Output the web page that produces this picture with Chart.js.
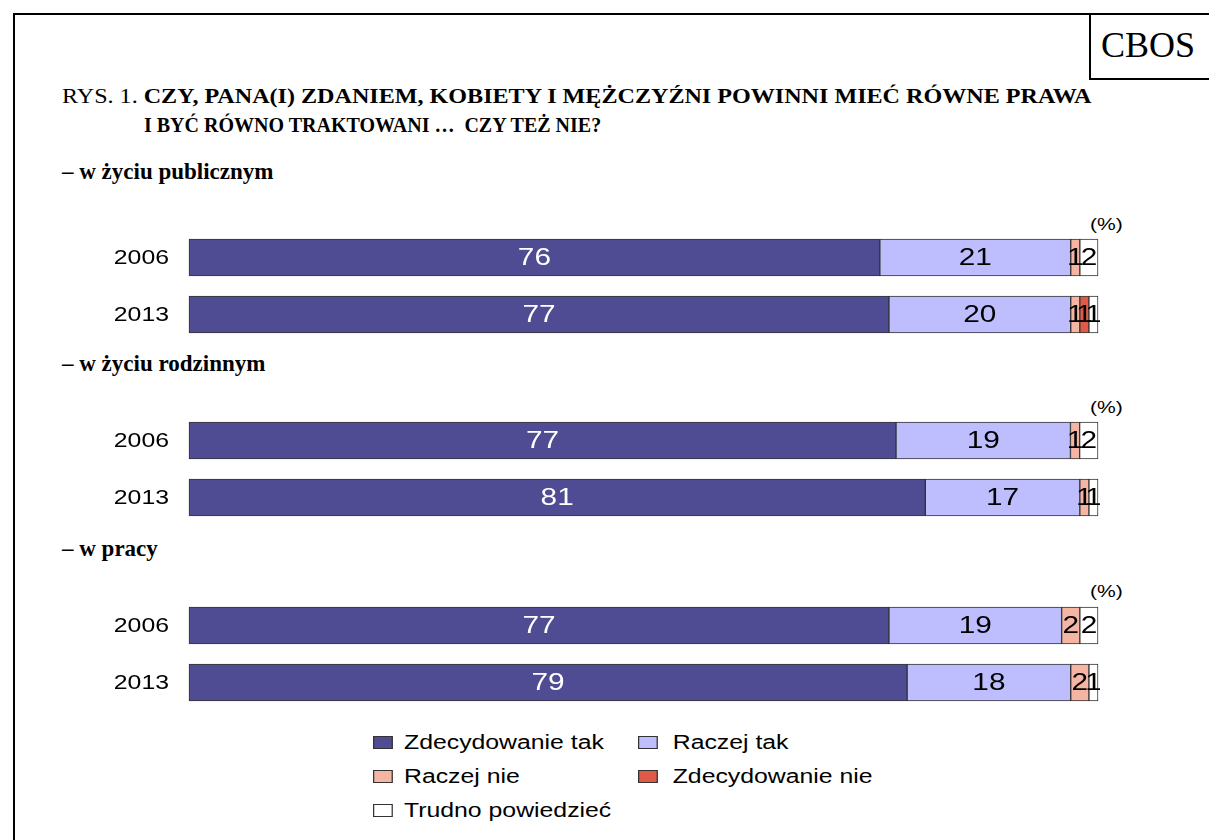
<!DOCTYPE html>
<html><head><meta charset="utf-8">
<script src="https://cdn.jsdelivr.net/npm/chart.js@4"></script>
<style>
html,body{margin:0;padding:0;background:#fff;width:1209px;height:840px;overflow:hidden;position:relative;}
.abs{position:absolute;white-space:nowrap;}
#frame{left:13px;top:13px;width:1300px;height:900px;border:2px solid #000;box-sizing:border-box;}
#cbos{left:1089px;top:13px;width:200px;height:67px;border-left:2px solid #000;border-bottom:2px solid #000;box-sizing:border-box;}
#cbosT{left:1101px;top:27px;font:36px/36px "Liberation Serif","Times New Roman",serif;}
.title{font:bold 20px/20px "Liberation Serif","Times New Roman",serif;}
.head{font:bold 23px/24px "Liberation Serif","Times New Roman",serif;left:62px;}
.pct{font:17px/18px "Liberation Sans",Arial,sans-serif;left:1090px;transform:scaleX(1.24);transform-origin:left center;}
.chart{position:absolute;left:100px;width:1000px;height:114px;}
.leg{position:absolute;font:20px/22px "Liberation Sans",Arial,sans-serif;display:flex;align-items:center;white-space:nowrap;transform:scaleX(1.24);transform-origin:left center;}
.leg span.sw{display:inline-block;width:14px;height:11px;border:1px solid #333;margin-right:9px;}
</style></head>
<body>
<div id="frame" class="abs"></div>
<div id="cbos" class="abs"></div>
<div id="cbosT" class="abs">CBOS</div>
<div class="abs title" style="left:62px;top:86px;transform:scaleX(1.205);transform-origin:left center;"><span style="font-weight:normal">RYS. 1.</span> CZY, PANA(I) ZDANIEM, KOBIETY I MĘŻCZYŹNI POWINNI MIEĆ RÓWNE PRAWA</div>
<div class="abs title" style="left:144px;top:115px;">I BYĆ RÓWNO TRAKTOWANI …&nbsp; CZY TEŻ NIE?</div>

<div class="abs head" style="top:160px;">– w życiu publicznym</div>
<div class="abs pct" style="top:216px;">(%)</div>
<div class="abs head" style="top:352px;">– w życiu rodzinnym</div>
<div class="abs pct" style="top:399px;">(%)</div>
<div class="abs head" style="top:537px;">– w pracy</div>
<div class="abs pct" style="top:583px;">(%)</div>

<div class="chart" style="top:229px;"><canvas id="c0"></canvas></div>
<div class="chart" style="top:412px;"><canvas id="c1"></canvas></div>
<div class="chart" style="top:597px;"><canvas id="c2"></canvas></div>

<div id="legend"></div>

<script>
// ---- data ----
const years = ['2006', '2013'];
const seriesNames = ['Zdecydowanie tak', 'Raczej tak', 'Raczej nie', 'Zdecydowanie nie', 'Trudno powiedzieć'];
const seriesColors = ['#504C94', '#BEBEFF', '#F5B5A3', '#E05A47', '#FFFFFF'];
// values per group: [2006, 2013] for each series
const publicZdecTak = [76, 77];
const publicRaczejTak = [21, 20];
const publicRaczejNie = [1, 1];
const publicZdecNie = [0, 1];
const publicTrudno = [2, 1];

const familyZdecTak = [77, 81];
const familyRaczejTak = [19, 17];
const familyRaczejNie = [1, 1];
const familyZdecNie = [0, 0];
const familyTrudno = [2, 1];

const workZdecTak = [77, 79];
const workRaczejTak = [19, 18];
const workRaczejNie = [2, 2];
const workZdecNie = [0, 0];
const workTrudno = [2, 1];

const groups = [
  [publicZdecTak, publicRaczejTak, publicRaczejNie, publicZdecNie, publicTrudno],
  [familyZdecTak, familyRaczejTak, familyRaczejNie, familyZdecNie, familyTrudno],
  [workZdecTak, workRaczejTak, workRaczejNie, workZdecNie, workTrudno]
];

const STRETCH = 1.24;
function stretchedText(ctx, txt, x, y) {
  ctx.save();
  ctx.translate(x, y);
  ctx.scale(STRETCH, 1);
  ctx.fillText(txt, 0, 0);
  ctx.restore();
}

// value + category label plugin
const labelPlugin = {
  id: 'segLabels',
  afterDatasetsDraw(chart) {
    const ctx = chart.ctx;
    ctx.save();
    ctx.textBaseline = 'middle';
    // category (year) labels from the y scale
    const ys = chart.scales.y;
    ctx.font = '20px "Liberation Sans", Arial, sans-serif';
    ctx.fillStyle = '#000';
    ctx.textAlign = 'right';
    chart.data.labels.forEach((lab, i) => {
      stretchedText(ctx, lab, chart.chartArea.left - 20, ys.getPixelForValue(i) + 1);
    });
    // segment values
    ctx.font = '24px "Liberation Sans", Arial, sans-serif';
    ctx.textAlign = 'center';
    chart.data.datasets.forEach((ds, di) => {
      const meta = chart.getDatasetMeta(di);
      meta.data.forEach((el, i) => {
        const raw = ds.rawValues[i];
        if (!raw) return;
        const p = el.getProps(['x', 'y', 'base'], true);
        const cx = (p.x + p.base) / 2;
        ctx.fillStyle = di === 0 ? '#FFFFFF' : '#000000';
        stretchedText(ctx, String(raw), cx, p.y + 1);
      });
    });
    ctx.restore();
  }
};

groups.forEach((g, gi) => {
  const totals = years.map((_, i) => g.reduce((s, arr) => s + arr[i], 0));
  new Chart(document.getElementById('c' + gi), {
    type: 'bar',
    data: {
      labels: years,
      datasets: g.map((arr, si) => ({
        label: seriesNames[si],
        data: arr.map((v, i) => v / totals[i] * 100),
        rawValues: arr,
        backgroundColor: seriesColors[si],
        borderColor: '#333333',
        borderWidth: 1,
        borderSkipped: false,
        barThickness: 37
      }))
    },
    options: {
      indexAxis: 'y',
      responsive: true,
      maintainAspectRatio: false,
      animation: false,
      clip: false,
      layout: { autoPadding: false, padding: { left: 89, right: 2, top: 0, bottom: 0 } },
      plugins: { legend: { display: false }, tooltip: { enabled: false } },
      scales: {
        x: { stacked: true, min: 0, max: 100, display: false },
        y: { stacked: true, display: false }
      }
    },
    plugins: [labelPlugin]
  });
});

// legend (HTML) built from series arrays
const legPos = [[373, 742], [638, 742], [373, 776], [638, 776], [373, 810]];
const legDiv = document.getElementById('legend');
seriesNames.forEach((n, i) => {
  const d = document.createElement('div');
  d.className = 'leg';
  d.style.left = legPos[i][0] + 'px';
  d.style.top = (legPos[i][1] - 11) + 'px';
  d.innerHTML = '<span class="sw" style="background:' + seriesColors[i] + '"></span>' +
    '<span' + (i % 2 === 1 ? ' style="margin-left:3px"' : '') + '>' + n + '</span>';
  legDiv.appendChild(d);
});
</script>
</body></html>
